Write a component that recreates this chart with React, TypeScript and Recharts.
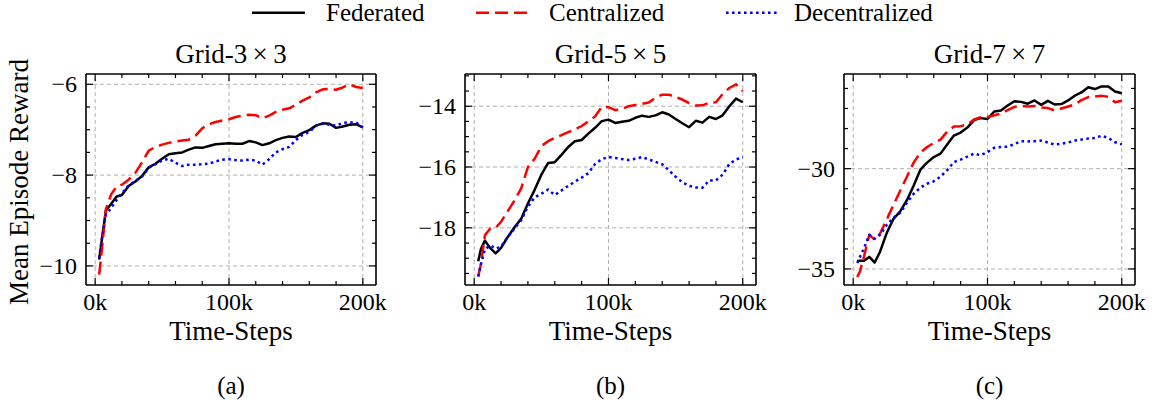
import React from 'react';
import { LineChart, Line, XAxis, YAxis, ReferenceLine } from 'recharts';

// ---------- data ----------
const steps = [3, 5, 8, 12, 16, 20, 25, 30, 35, 40, 45, 50, 55, 60, 65, 70, 75, 80, 85, 90, 95, 100, 105, 110, 115, 120, 125, 130, 135, 140, 145, 150, 155, 160, 165, 170, 175, 180, 185, 190, 195, 200];

const seriesNames = ['Federated', 'Centralized', 'Decentralized'];
const seriesColors = ['#000000', '#ff0000', '#0000ff'];
const seriesDash = ['', '13 6', '2.6 3.4'];

const grid3Federated = [-9.86, -9.42, -8.78, -8.63, -8.47, -8.44, -8.24, -8.14, -8.02, -7.83, -7.75, -7.64, -7.54, -7.52, -7.5, -7.44, -7.39, -7.4, -7.36, -7.32, -7.31, -7.3, -7.31, -7.31, -7.25, -7.28, -7.34, -7.3, -7.23, -7.18, -7.15, -7.16, -7.07, -7.01, -6.91, -6.86, -6.87, -6.96, -6.93, -6.89, -6.88, -6.95];
const grid3Centralized = [-10.19, -9.64, -8.75, -8.42, -8.25, -8.21, -8.1, -7.95, -7.72, -7.46, -7.38, -7.33, -7.29, -7.26, -7.24, -7.22, -7.13, -6.97, -6.88, -6.83, -6.8, -6.77, -6.72, -6.69, -6.67, -6.68, -6.75, -6.69, -6.61, -6.56, -6.53, -6.45, -6.36, -6.29, -6.18, -6.11, -6.1, -6.12, -6.07, -6.0, -6.06, -6.08];
const grid3Decentralized = [-9.82, -9.4, -8.87, -8.72, -8.55, -8.4, -8.23, -8.13, -8.03, -7.84, -7.76, -7.68, -7.64, -7.73, -7.8, -7.77, -7.77, -7.76, -7.75, -7.7, -7.66, -7.65, -7.67, -7.68, -7.66, -7.68, -7.77, -7.65, -7.5, -7.43, -7.38, -7.23, -7.11, -7.05, -6.91, -6.87, -6.89, -6.91, -6.85, -6.84, -6.84, -6.95];

const grid5Federated = [-19.1, -18.7, -18.42, -18.67, -18.84, -18.66, -18.3, -17.98, -17.7, -17.2, -16.75, -16.25, -15.87, -15.84, -15.6, -15.34, -15.15, -15.11, -14.9, -14.71, -14.49, -14.44, -14.55, -14.51, -14.48, -14.38, -14.31, -14.35, -14.3, -14.2, -14.27, -14.42, -14.56, -14.69, -14.48, -14.54, -14.35, -14.42, -14.3, -14.0, -13.75, -13.87];
const grid5Centralized = [-19.6, -19.2, -18.24, -18.02, -18.0, -17.8, -17.45, -17.1, -16.7, -16.0, -15.73, -15.31, -15.15, -15.04, -14.95, -14.85, -14.77, -14.65, -14.5, -14.34, -14.02, -14.03, -14.13, -14.09, -14.0, -13.96, -13.92, -13.88, -13.72, -13.62, -13.62, -13.7, -13.78, -13.9, -13.98, -13.97, -13.88, -13.87, -13.6, -13.4, -13.28, -13.5];
const grid5Decentralized = [-19.6, -19.2, -18.7, -18.58, -18.68, -18.62, -18.3, -18.02, -17.75, -17.3, -17.0, -16.88, -16.74, -16.92, -16.77, -16.62, -16.48, -16.35, -16.2, -15.9, -15.74, -15.67, -15.7, -15.74, -15.77, -15.73, -15.67, -15.75, -15.83, -15.91, -16.11, -16.32, -16.5, -16.62, -16.67, -16.68, -16.44, -16.44, -16.25, -15.9, -15.75, -15.67];

const grid7Federated = [-34.6, -34.59, -34.59, -34.4, -34.68, -34.14, -33.2, -32.5, -32.13, -31.57, -30.85, -30.05, -29.7, -29.42, -29.25, -28.8, -28.35, -28.2, -27.95, -27.58, -27.48, -27.52, -27.15, -27.1, -26.85, -26.64, -26.67, -26.76, -26.6, -26.82, -26.62, -26.8, -26.78, -26.6, -26.36, -26.2, -25.94, -26.03, -25.9, -25.9, -26.15, -26.24];
const grid7Centralized = [-35.4, -35.13, -34.39, -33.3, -33.54, -33.23, -32.53, -31.8, -31.1, -30.4, -29.7, -29.2, -28.92, -28.72, -28.55, -28.15, -27.9, -27.88, -27.8, -27.55, -27.43, -27.43, -27.34, -27.26, -27.08, -26.92, -26.86, -26.9, -26.87, -26.95, -26.98, -27.1, -27.0, -26.9, -26.8, -26.58, -26.43, -26.4, -26.37, -26.42, -26.69, -26.61];
const grid7Decentralized = [-34.7, -34.4, -33.97, -33.3, -33.5, -33.3, -32.8, -32.45, -32.2, -31.7, -31.25, -30.95, -30.75, -30.63, -30.4, -30.07, -29.67, -29.55, -29.4, -29.25, -29.33, -29.17, -28.96, -28.92, -28.9, -28.78, -28.63, -28.64, -28.63, -28.6, -28.7, -28.8, -28.76, -28.7, -28.6, -28.55, -28.5, -28.47, -28.36, -28.47, -28.68, -28.79];

const xMajorTicks = [0, 100, 200];
const xMinorTicks = [20, 40, 60, 80, 120, 140, 160, 180];

const grid3YMajor = [-10, -8, -6];
const grid3YMinor = [-9.5, -9, -8.5, -7.5, -7, -6.5];
const grid5YMajor = [-18, -16, -14];
const grid5YMinor = [-19.5, -19, -18.5, -17.5, -17, -16.5, -15.5, -15, -14.5, -13.5, -13];
const grid7YMajor = [-35, -30];
const grid7YMinor = [-34, -33, -32, -31, -29, -28, -27, -26];

const panelTitles = ['Grid-3\u2009×\u20093', 'Grid-5\u2009×\u20095', 'Grid-7\u2009×\u20097'];
const panelCaptions = ['(a)', '(b)', '(c)'];

// ---------- layout / style ----------
const FONT = '"Liberation Serif", "Times New Roman", Times, serif';
const X_DOMAIN: [number, number] = [-6.85, 209.85];
const PLOT_TOP = 74;
const PLOT_H = 211;
const CHART_H = 360;
const YAXIS_W = 80;
const RIGHT_M = 20;
const XAXIS_H = CHART_H - PLOT_TOP - PLOT_H;

const panels = [
  { left: 86, width: 290, title: panelTitles[0], caption: panelCaptions[0], fed: grid3Federated, cen: grid3Centralized, dec: grid3Decentralized, yDomain: [-10.42, -5.774] as [number, number], yMajor: grid3YMajor, yMinor: grid3YMinor },
  { left: 465, width: 291, title: panelTitles[1], caption: panelCaptions[1], fed: grid5Federated, cen: grid5Centralized, dec: grid5Decentralized, yDomain: [-19.88, -12.94] as [number, number], yMajor: grid5YMajor, yMinor: grid5YMinor },
  { left: 844, width: 291, title: panelTitles[2], caption: panelCaptions[2], fed: grid7Federated, cen: grid7Centralized, dec: grid7Decentralized, yDomain: [-35.8, -25.28] as [number, number], yMajor: grid7YMajor, yMinor: grid7YMinor },
];

const fmtK = (v: number) => `${v}k`;
const fmtY = (v: number) => (v < 0 ? '\u2212' + Math.abs(v) : String(v));

type Side = 'bottom' | 'top' | 'left' | 'right';

const makeTick = (side: Side, majors: number[], fmt?: (v: number) => string) => (props: any) => {
  const { x, y, payload } = props;
  const v = Number(payload.value);
  const major = majors.some((m) => Math.abs(m - v) < 1e-9);
  const len = major ? 7 : 4;
  let c: number[];
  if (side === 'bottom') c = [x, y, x, y - len];
  else if (side === 'top') c = [x, y, x, y + len];
  else if (side === 'left') c = [x, y, x + len, y];
  else c = [x, y, x - len, y];
  let label: React.ReactNode = null;
  if (major && fmt) {
    if (side === 'bottom') {
      label = (
        <text x={x} y={y + 25} textAnchor="middle" fontSize={24} fontFamily={FONT} fill="#000">
          {fmt(v)}
        </text>
      );
    } else if (side === 'left') {
      label = (
        <text x={x - 9} y={y + 8} textAnchor="end" fontSize={24} fontFamily={FONT} fill="#000">
          {fmt(v)}
        </text>
      );
    }
  }
  return (
    <g>
      <line x1={c[0]} y1={c[1]} x2={c[2]} y2={c[3]} stroke="#000" strokeWidth={1.2} />
      {label}
    </g>
  );
};

const axisLineStyle = { stroke: '#000', strokeWidth: 1.6 };
const gridStyle = { stroke: '#b0b0b0', strokeWidth: 1, strokeDasharray: '4 3' };

function Panel({ p }: { p: (typeof panels)[number] }) {
  const rows = steps.map((s, i) => ({
    step: s,
    [seriesNames[0]]: p.fed[i],
    [seriesNames[1]]: p.cen[i],
    [seriesNames[2]]: p.dec[i],
  }));
  const xTicks = [...xMajorTicks, ...xMinorTicks].sort((a, b) => a - b);
  const yTicks = [...p.yMajor, ...p.yMinor].sort((a, b) => a - b);
  const chartW = YAXIS_W + p.width + RIGHT_M;
  return (
    <div style={{ position: 'absolute', left: p.left - YAXIS_W, top: 0, width: chartW, height: CHART_H }}>
      <LineChart width={chartW} height={CHART_H} data={rows} margin={{ top: PLOT_TOP - 1, right: RIGHT_M - 1, bottom: 0, left: 0 }}>
        <XAxis
          xAxisId="b"
          orientation="bottom"
          type="number"
          dataKey="step"
          domain={X_DOMAIN}
          allowDataOverflow
          ticks={xTicks}
          interval={0}
          tickSize={0}
          tickMargin={0}
          tickLine={false}
          tick={makeTick('bottom', xMajorTicks, fmtK)}
          axisLine={axisLineStyle}
          height={XAXIS_H}
          label={{ value: 'Time-Steps', position: 'insideBottom', offset: 20, fontSize: 27, fill: '#000', fontFamily: FONT }}
        />
        <XAxis
          xAxisId="t"
          orientation="top"
          type="number"
          dataKey="step"
          domain={X_DOMAIN}
          allowDataOverflow
          ticks={xTicks}
          interval={0}
          tickSize={0}
          tickMargin={0}
          tickLine={false}
          tick={makeTick('top', xMajorTicks)}
          axisLine={axisLineStyle}
          height={1}
        />
        <YAxis
          yAxisId="l"
          orientation="left"
          type="number"
          domain={p.yDomain}
          allowDataOverflow
          ticks={yTicks}
          interval={0}
          tickSize={0}
          tickMargin={0}
          tickLine={false}
          tick={makeTick('left', p.yMajor, fmtY)}
          axisLine={axisLineStyle}
          width={YAXIS_W}
        />
        <YAxis
          yAxisId="r"
          orientation="right"
          type="number"
          domain={p.yDomain}
          allowDataOverflow
          ticks={yTicks}
          interval={0}
          tickSize={0}
          tickMargin={0}
          tickLine={false}
          tick={makeTick('right', p.yMajor)}
          axisLine={axisLineStyle}
          width={1}
        />
        {xMajorTicks.map((t) => (
          <ReferenceLine key={'gx' + t} x={t} xAxisId="b" yAxisId="l" {...gridStyle} />
        ))}
        {p.yMajor.map((t) => (
          <ReferenceLine key={'gy' + t} y={t} xAxisId="b" yAxisId="l" {...gridStyle} />
        ))}
        {seriesNames.map((name, i) => (
          <Line
            key={name}
            xAxisId="b"
            yAxisId="l"
            type="linear"
            dataKey={name}
            stroke={seriesColors[i]}
            strokeWidth={2.5}
            strokeDasharray={seriesDash[i] || undefined}
            strokeLinejoin="round"
            dot={false}
            activeDot={false}
            isAnimationActive={false}
          />
        ))}
      </LineChart>
    </div>
  );
}

const legendLineX = [252, 476, 726];
const legendTextX = [326, 549, 794];

export default function App() {
  return (
    <div style={{ position: 'absolute', left: 0, top: 0, width: 1156, height: 408, background: '#fff', fontFamily: FONT, overflow: 'hidden' }}>
      {panels.map((p, i) => (
        <Panel key={i} p={p} />
      ))}
      <svg width={1156} height={408} style={{ position: 'absolute', left: 0, top: 0, pointerEvents: 'none' }}>
        {seriesNames.map((name, i) => (
          <g key={name}>
            <line
              x1={legendLineX[i]}
              x2={legendLineX[i] + 53}
              y1={12.7}
              y2={12.7}
              stroke={seriesColors[i]}
              strokeWidth={2.5}
              strokeDasharray={seriesDash[i] || undefined}
            />
            <text x={legendTextX[i]} y={21} fontSize={25} fontFamily={FONT} fill="#000">
              {name}
            </text>
          </g>
        ))}
        {panels.map((p, i) => (
          <g key={'t' + i}>
            <text x={p.left + p.width / 2} y={63} textAnchor="middle" fontSize={27} fontFamily={FONT} fill="#000">
              {p.title}
            </text>
            <text x={p.left + p.width / 2} y={394} textAnchor="middle" fontSize={25} fontFamily={FONT} fill="#000">
              {p.caption}
            </text>
          </g>
        ))}
        <text
          x={28}
          y={182}
          textAnchor="middle"
          fontSize={27}
          fontFamily={FONT}
          fill="#000"
          transform="rotate(-90, 28, 182)"
        >
          Mean Episode Reward
        </text>
      </svg>
    </div>
  );
}
